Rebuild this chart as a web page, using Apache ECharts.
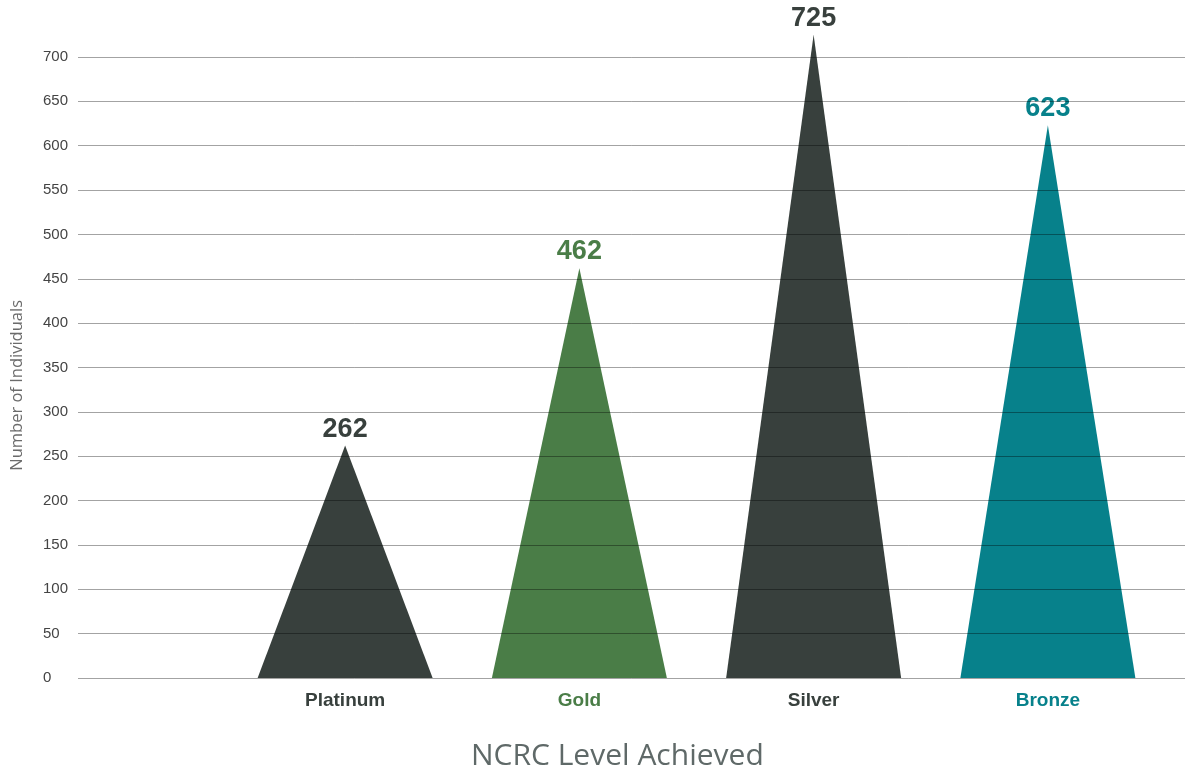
<!DOCTYPE html>
<html>
<head>
<meta charset="utf-8">
<script src="https://cdn.jsdelivr.net/npm/echarts@6/dist/echarts.min.js"></script>
<style>
html,body{margin:0;padding:0;background:#fff;}
#main{width:1185px;height:773px;}
</style>
</head>
<body>
<div id="main"></div>
<script>
const categories = ['Platinum', 'Gold', 'Silver', 'Bronze'];
const values = [262, 462, 725, 623];
const colors = ['#38403d', '#4a7d47', '#38403d', '#07818b'];
const yTicks = { min: 0, max: 700, interval: 50 };
const yAxisTitle = 'Number of Individuals';
const xAxisTitle = 'NCRC Level Achieved';

const FONT = 'Liberation Sans, Arial, sans-serif';
const chart = echarts.init(document.getElementById('main'), null, { renderer: 'canvas' });
const rich = {};
colors.forEach(function (c, i) {
  rich['c' + i] = { color: c, fontWeight: 'bold', fontSize: 19, fontFamily: FONT };
});
const option = {
  animation: false,
  backgroundColor: '#ffffff',
  grid: [
    { left: 78, right: 0, top: 57, bottom: 95 },
    { left: 228, right: 20, top: 57, bottom: 95 }
  ],
  xAxis: [
    { gridIndex: 0, type: 'category', data: categories, show: false },
    {
      gridIndex: 1, type: 'category', data: categories,
      axisLine: { show: false }, axisTick: { show: false },
      axisLabel: {
        margin: 13,
        fontFamily: FONT, fontWeight: 'bold', fontSize: 19,
        formatter: function (v, i) { return '{c' + i + '|' + v + '}'; },
        rich: rich
      }
    }
  ],
  yAxis: [
    {
      gridIndex: 0, type: 'value', min: yTicks.min, max: yTicks.max, interval: yTicks.interval,
      z: 5,
      axisLine: { show: false }, axisTick: { show: false },
      splitLine: { lineStyle: { color: 'rgba(0,0,0,0.36)', width: 1 } },
      axisLabel: {
        align: 'left', margin: 35, color: '#444',
        fontFamily: FONT, fontSize: 15
      }
    },
    {
      gridIndex: 1, type: 'value', min: yTicks.min, max: yTicks.max, interval: yTicks.interval,
      show: false, splitLine: { show: false }
    }
  ],
  series: [{
    type: 'pictorialBar',
    xAxisIndex: 1, yAxisIndex: 1,
    symbol: 'triangle',
    symbolSize: [175, '100%'],
    clip: false,
    z: 2,
    data: values.map(function (v, i) {
      return {
        value: v,
        itemStyle: { color: colors[i] },
        label: { color: colors[i] }
      };
    }),
    label: {
      show: true, position: 'top', distance: 3,
      fontFamily: FONT, fontWeight: 'bold', fontSize: 27
    }
  }],
  graphic: [
    {
      type: 'text', left: 9, top: 300, rotation: Math.PI / 2,
      style: {
        text: yAxisTitle, fill: '#6b6b6b',
        font: '16.5px "Open Sans", sans-serif'
      }
    },
    {
      type: 'text', left: 471, top: 741,
      style: {
        text: xAxisTitle, fill: '#5f6968',
        font: '30px "Open Sans", sans-serif'
      }
    }
  ]
};
chart.setOption(option);
</script>
</body>
</html>
